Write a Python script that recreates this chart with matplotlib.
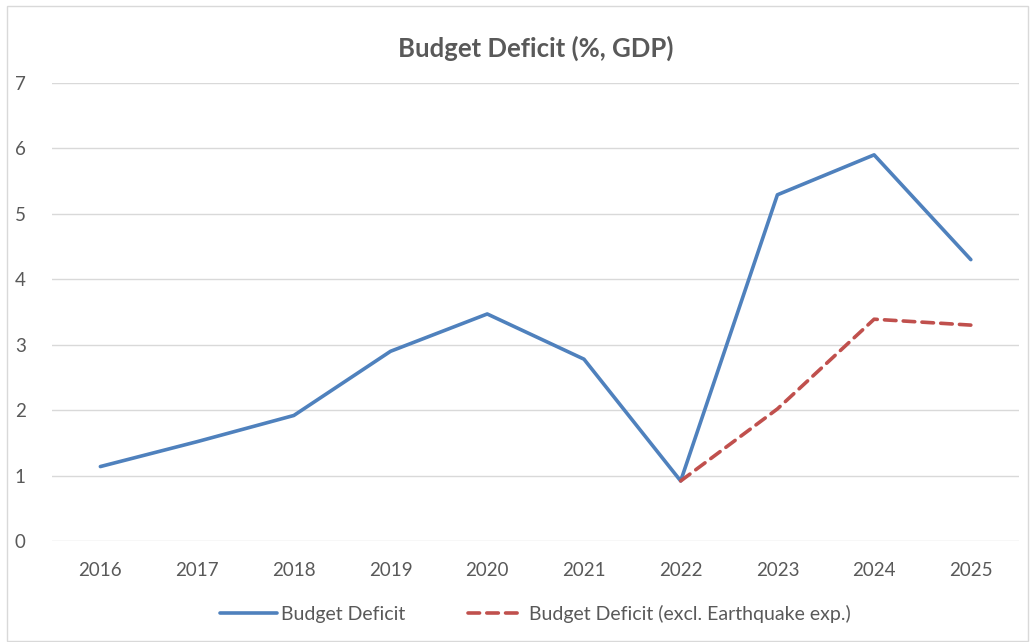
import matplotlib.pyplot as plt
from matplotlib.patches import Rectangle

years = ['2016', '2017', '2018', '2019', '2020', '2021', '2022', '2023', '2024', '2025']
deficit = [1.14, 1.52, 1.92, 2.90, 3.47, 2.78, 0.92, 5.29, 5.90, 4.30]
deficit_excl_quake = [None, None, None, None, None, None, 0.92, 2.02, 3.39, 3.30]

plt.rcParams['font.family'] = ['Lato', 'DejaVu Sans']
text_grey = '#595959'

fig = plt.figure(figsize=(10.30, 6.42), dpi=100)
ax = fig.add_axes([0.0505, 0.157, 0.939, 0.714])

x = list(range(len(years)))
ax.plot(x, deficit, '-', color='#4f81bd', lw=2.6, label='Budget Deficit',
        solid_capstyle='round', solid_joinstyle='round')
ex_x = [i for i, v in zip(x, deficit_excl_quake) if v is not None]
ex_y = [v for v in deficit_excl_quake if v is not None]
ax.plot(ex_x, ex_y, color='#c0504d', lw=2.6, dashes=(3.2, 2.0),
        label='Budget Deficit (excl. Earthquake exp.)', dash_capstyle='round')

ax.set_xlim(-0.5, len(years) - 0.5)
ax.set_ylim(0, 7)
ax.set_xticks(x)
ax.set_xticklabels(years)
ax.set_yticks(range(0, 8))
ax.grid(axis='y', color='#d9d9d9', lw=1)
ax.set_axisbelow(True)
for s in ax.spines.values():
    s.set_visible(False)
ax.tick_params(length=0, labelsize=13.5, colors=text_grey)
ax.tick_params(axis='x', pad=15)
ax.tick_params(axis='y', pad=19)

ax.set_title('Budget Deficit (%, GDP)', fontsize=18.5, fontweight='bold',
             color=text_grey, pad=19)

ax.legend(loc='upper center', bbox_to_anchor=(0.5, -0.1), ncol=2, frameon=False,
          fontsize=14, labelcolor=text_grey, handlelength=2.9, handletextpad=0.25,
          columnspacing=3.2)

# outer chart border
fig.patches.append(Rectangle((0.007, 0.002), 0.991, 0.988, transform=fig.transFigure,
                             fill=False, edgecolor='#d9d9d9', lw=1))

fig.savefig('out.png', dpi=100)
